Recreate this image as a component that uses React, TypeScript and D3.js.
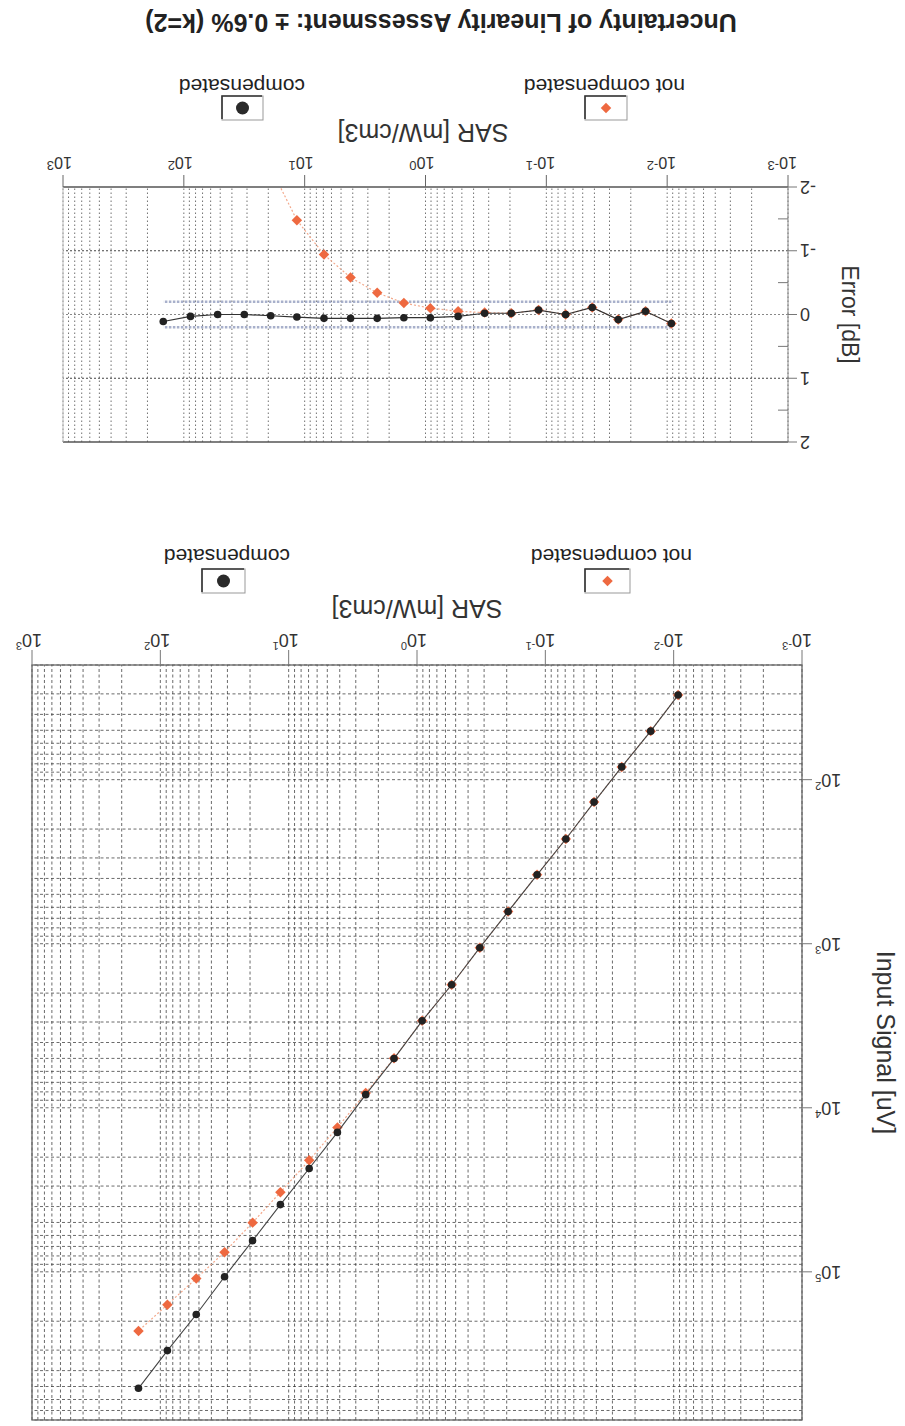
import React, { useEffect, useRef } from "react";
import * as d3 from "d3";

const W = 905;
const H = 1426;
const FONT = "'Liberation Sans', Arial, sans-serif";

// SAR [mW/cm3] of the calibration steps
const sarValues = [
  0.00923, 0.0151, 0.0254, 0.0417, 0.0692, 0.116, 0.195, 0.324, 0.537, 0.912,
  1.51, 2.51, 4.17, 6.92, 11.6, 19.1, 31.6, 52.5, 88.1, 148,
];

// input signal [uV]
const inputCompensated = [
  30.5, 50.6, 83.6, 137, 230, 380, 637, 1057, 1778, 2951, 5012, 8318, 14125,
  23442, 38905, 64565, 107152, 181970, 301995, 512861,
];
const inputNotCompensated = [
  30.5, 50.6, 83.6, 137, 230, 380, 637, 1057, 1778, 2951, 4990, 8128, 13183,
  20893, 32734, 50119, 75858, 109648, 158489, 229087,
];

// linearity error [dB]
const errorCompensated = [
  0.14, -0.05, 0.08, -0.11, 0.0, -0.07, -0.02, -0.02, 0.03, 0.05, 0.05, 0.06,
  0.06, 0.06, 0.04, 0.02, 0.0, 0.0, 0.03, 0.11,
];
const errorNotCompensated = [
  0.14, -0.05, 0.08, -0.11, 0.0, -0.07, -0.02, -0.03, -0.05, -0.1, -0.18, -0.34,
  -0.58, -0.94, -1.48, -2.3, -3.0, -4.4, -5.6, -7.0,
];

const uncertaintyLimits = [-0.2, 0.2];
const sarDecades = [1e-3, 1e-2, 1e-1, 1, 10, 100, 1000];
const inputDecades = [100, 1000, 10000, 100000];
const errorTicks = [-2, -1, 0, 1, 2];
const errorMinorTicks = [-1.5, -0.5, 0.5, 1.5];
const errorGrid = [-1, 0, 1];

const ORANGE = "#ee6940";
const ORANGE_LINE = "#f3a98c";
const DOT = "#222";

export default function App() {
  const svgRef = useRef<SVGSVGElement>(null);

  useEffect(() => {
    const svg = d3.select(svgRef.current);
    svg.selectAll("*").remove();

    // the scanned sheet is upside down: draw normally, then turn by 180 deg
    const root = svg
      .append("g")
      .attr("transform", `rotate(180 ${W / 2} ${H / 2})`)
      .style("font-family", FONT);

    const diamond = d3.symbol().type(d3.symbolDiamond2).size(70);

    const legend = (g, y, textY, items) => {
      items.forEach((it) => {
        const bw = it.w;
        const bh = 24;
        g.append("rect")
          .attr("x", it.bx)
          .attr("y", y)
          .attr("width", bw)
          .attr("height", bh)
          .attr("fill", "#fff")
          .attr("stroke", "#999")
          .attr("stroke-width", 1);
        g.append("path")
          .attr("d", `M${it.bx + 1},${y + bh} H${it.bx + bw} V${y + 1}`)
          .attr("fill", "none")
          .attr("stroke", "#333")
          .attr("stroke-width", 1.6);
        if (it.kind === "circle") {
          g.append("circle")
            .attr("cx", it.bx + bw / 2)
            .attr("cy", y + bh / 2)
            .attr("r", 6.5)
            .attr("fill", "#2a2a2a");
        } else {
          g.append("path")
            .attr("d", diamond())
            .attr("transform", `translate(${it.bx + bw / 2},${y + bh / 2})`)
            .attr("fill", ORANGE);
        }
        g.append("text")
          .attr("x", it.tx)
          .attr("y", textY)
          .attr("font-size", 21)
          .attr("fill", "#222")
          .text(it.label);
      });
    };

    const decadeLabel = (g, x, y, v, size, supSize, rise) => {
      const t = g
        .append("text")
        .attr("x", x - size * 0.556)
        .attr("y", y)
        .attr("font-size", size)
        .attr("fill", "#333");
      t.append("tspan").text("10");
      t.append("tspan")
        .attr("font-size", supSize)
        .attr("dy", -rise)
        .text(String(Math.round(Math.log10(v))));
    };

    // ---------------- SAR vs input signal ----------------
    const a = { left: 103, right: 873, top: 6, bottom: 761 };
    const xA = d3.scaleLog().domain([1e-3, 1e3]).range([a.left, a.right]);
    const yA = d3.scaleLog().domain([20, 8e5]).range([a.bottom, a.top]);
    const gA = root.append("g");

    gA.append("g")
      .selectAll("line")
      .data(xA.ticks())
      .join("line")
      .attr("x1", (d) => xA(d))
      .attr("x2", (d) => xA(d))
      .attr("y1", a.top)
      .attr("y2", a.bottom)
      .attr("stroke", "#333")
      .attr("stroke-width", 1)
      .attr("stroke-dasharray", "3,2.5")
      .attr("opacity", 0.72);

    gA.append("g")
      .selectAll("line")
      .data(yA.ticks())
      .join("line")
      .attr("x1", a.left)
      .attr("x2", a.right)
      .attr("y1", (d) => yA(d))
      .attr("y2", (d) => yA(d))
      .attr("stroke", "#333")
      .attr("stroke-width", 1)
      .attr("stroke-dasharray", "3,2.5")
      .attr("opacity", 0.72);

    gA.append("rect")
      .attr("x", a.left)
      .attr("y", a.top)
      .attr("width", a.right - a.left)
      .attr("height", a.bottom - a.top)
      .attr("fill", "none")
      .attr("stroke", "#666")
      .attr("stroke-width", 1.3);

    gA.append("g")
      .selectAll("line")
      .data(sarDecades)
      .join("line")
      .attr("x1", (d) => xA(d))
      .attr("x2", (d) => xA(d))
      .attr("y1", a.bottom)
      .attr("y2", a.bottom + 15)
      .attr("stroke", "#777");
    sarDecades.forEach((d) => decadeLabel(gA, xA(d), 792, d, 18, 11, 8));

    gA.append("g")
      .selectAll("line")
      .data(inputDecades)
      .join("line")
      .attr("x1", a.left - 10)
      .attr("x2", a.left)
      .attr("y1", (d) => yA(d))
      .attr("y2", (d) => yA(d))
      .attr("stroke", "#777");
    inputDecades.forEach((d) => {
      const t = gA
        .append("text")
        .attr("x", 90)
        .attr("y", yA(d) + 6)
        .attr("text-anchor", "end")
        .attr("font-size", 18)
        .attr("fill", "#333");
      t.append("tspan").text("10");
      t.append("tspan")
        .attr("font-size", 11)
        .attr("dy", -8)
        .text(String(Math.round(Math.log10(d))));
    });

    gA.append("text")
      .attr("transform", `translate(28,${(a.top + a.bottom) / 2}) rotate(-90)`)
      .attr("text-anchor", "middle")
      .attr("font-size", 25)
      .attr("fill", "#333")
      .text("Input Signal [uV]");

    gA.append("text")
      .attr("x", 488)
      .attr("y", 826)
      .attr("text-anchor", "middle")
      .attr("font-size", 25)
      .attr("fill", "#333")
      .text("SAR [mW/cm3]");

    const lineA = (ys) =>
      d3
        .line<number>()
        .x((d) => xA(d))
        .y((d, i) => yA(ys[i]));

    gA.append("path")
      .attr("d", lineA(inputNotCompensated)(sarValues))
      .attr("fill", "none")
      .attr("stroke", ORANGE_LINE)
      .attr("stroke-width", 1.2)
      .attr("stroke-dasharray", "2,2");
    gA.append("g")
      .selectAll("path")
      .data(sarValues)
      .join("path")
      .attr("d", diamond())
      .attr(
        "transform",
        (d, i) => `translate(${xA(d)},${yA(inputNotCompensated[i])})`
      )
      .attr("fill", ORANGE);

    gA.append("path")
      .attr("d", lineA(inputCompensated)(sarValues))
      .attr("fill", "none")
      .attr("stroke", "#444")
      .attr("stroke-width", 1.1);
    gA.append("g")
      .selectAll("circle")
      .data(sarValues)
      .join("circle")
      .attr("cx", (d) => xA(d))
      .attr("cy", (d, i) => yA(inputCompensated[i]))
      .attr("r", 3.8)
      .attr("fill", DOT);

    legend(gA, 833, 877, [
      { kind: "diamond", bx: 275, w: 45, tx: 213, label: "not compensated" },
      { kind: "circle", bx: 660, w: 43, tx: 615, label: "compensated" },
    ]);

    // ---------------- linearity error ----------------
    const b = { left: 117, right: 842, top: 984, bottom: 1239 };
    const xB = d3.scaleLog().domain([1e-3, 1e3]).range([b.left, b.right]);
    const yB = d3.scaleLinear().domain([-2, 2]).range([b.bottom, b.top]);
    const gB = root.append("g");

    svg
      .append("defs")
      .append("clipPath")
      .attr("id", "clipB")
      .append("rect")
      .attr("x", b.left)
      .attr("y", b.top)
      .attr("width", b.right - b.left)
      .attr("height", b.bottom - b.top);

    gB.append("g")
      .selectAll("line")
      .data(xB.ticks())
      .join("line")
      .attr("x1", (d) => xB(d))
      .attr("x2", (d) => xB(d))
      .attr("y1", b.top)
      .attr("y2", b.bottom)
      .attr("stroke", "#444")
      .attr("stroke-width", 1)
      .attr("stroke-dasharray", "1.5,2.5")
      .attr("opacity", 0.75);

    gB.append("g")
      .selectAll("line")
      .data(errorGrid)
      .join("line")
      .attr("x1", b.left)
      .attr("x2", b.right)
      .attr("y1", (d) => yB(d))
      .attr("y2", (d) => yB(d))
      .attr("stroke", (d) => (d === 0 ? "#888" : "#444"))
      .attr("stroke-width", 1)
      .attr("stroke-dasharray", "2,2");

    gB.append("line")
      .attr("x1", b.left)
      .attr("x2", b.right)
      .attr("y1", b.top)
      .attr("y2", b.top)
      .attr("stroke", "#555")
      .attr("stroke-width", 1.6);
    gB.append("line")
      .attr("x1", b.left)
      .attr("x2", b.right)
      .attr("y1", b.bottom)
      .attr("y2", b.bottom)
      .attr("stroke", "#555")
      .attr("stroke-width", 1.6);
    gB.append("line")
      .attr("x1", b.left)
      .attr("x2", b.left)
      .attr("y1", b.top)
      .attr("y2", b.bottom)
      .attr("stroke", "#888");
    gB.append("line")
      .attr("x1", b.right)
      .attr("x2", b.right)
      .attr("y1", b.top)
      .attr("y2", b.bottom)
      .attr("stroke", "#bbb");

    gB.append("g")
      .selectAll("line")
      .data(sarDecades)
      .join("line")
      .attr("x1", (d) => xB(d))
      .attr("x2", (d) => xB(d))
      .attr("y1", b.bottom)
      .attr("y2", b.bottom + 12)
      .attr("stroke", "#666");
    sarDecades.forEach((d) => decadeLabel(gB, xB(d), 1269, d, 16, 13, 4));

    gB.append("g")
      .selectAll("line")
      .data(errorTicks)
      .join("line")
      .attr("x1", b.left - 9)
      .attr("x2", b.left)
      .attr("y1", (d) => yB(d))
      .attr("y2", (d) => yB(d))
      .attr("stroke", "#777");
    gB.append("g")
      .selectAll("line")
      .data(errorMinorTicks)
      .join("line")
      .attr("x1", b.left)
      .attr("x2", b.left + 10)
      .attr("y1", (d) => yB(d))
      .attr("y2", (d) => yB(d))
      .attr("stroke", "#777");
    gB.append("g")
      .selectAll("text")
      .data(errorTicks)
      .join("text")
      .attr("x", 105)
      .attr("y", (d) => yB(d) + 6.5)
      .attr("text-anchor", "end")
      .attr("font-size", 18)
      .attr("fill", "#333")
      .text((d) => String(d));

    gB.append("text")
      .attr("transform", `translate(63,${(b.top + b.bottom) / 2}) rotate(-90)`)
      .attr("text-anchor", "middle")
      .attr("font-size", 23)
      .attr("fill", "#333")
      .text("Error [dB]");

    gB.append("text")
      .attr("x", 482)
      .attr("y", 1302)
      .attr("text-anchor", "middle")
      .attr("font-size", 25)
      .attr("fill", "#333")
      .text("SAR [mW/cm3]");

    const sarExtent = d3.extent(sarValues);
    gB.append("g")
      .selectAll("line")
      .data(uncertaintyLimits)
      .join("line")
      .attr("x1", xB(sarExtent[0]))
      .attr("x2", xB(sarExtent[1]))
      .attr("y1", (d) => yB(d))
      .attr("y2", (d) => yB(d))
      .attr("stroke", "#9aa3c2")
      .attr("stroke-width", 2.4)
      .attr("stroke-dasharray", "2.5,1.5")
      .attr("opacity", 0.85);

    const plotB = gB.append("g").attr("clip-path", "url(#clipB)");
    const lineB = (ys) =>
      d3
        .line<number>()
        .x((d) => xB(d))
        .y((d, i) => yB(ys[i]));

    plotB
      .append("path")
      .attr("d", lineB(errorNotCompensated)(sarValues))
      .attr("fill", "none")
      .attr("stroke", ORANGE_LINE)
      .attr("stroke-width", 1.2)
      .attr("stroke-dasharray", "2,2");
    plotB
      .append("g")
      .selectAll("path")
      .data(sarValues)
      .join("path")
      .attr("d", diamond())
      .attr(
        "transform",
        (d, i) => `translate(${xB(d)},${yB(errorNotCompensated[i])})`
      )
      .attr("fill", ORANGE);

    plotB
      .append("path")
      .attr("d", lineB(errorCompensated)(sarValues))
      .attr("fill", "none")
      .attr("stroke", "#333")
      .attr("stroke-width", 1.2);
    plotB
      .append("g")
      .selectAll("circle")
      .data(sarValues)
      .join("circle")
      .attr("cx", (d) => xB(d))
      .attr("cy", (d, i) => yB(errorCompensated[i]))
      .attr("r", 3.8)
      .attr("fill", DOT);

    legend(gB, 1306, 1347, [
      { kind: "diamond", bx: 278, w: 42, tx: 220, label: "not compensated" },
      { kind: "circle", bx: 642, w: 41, tx: 600, label: "compensated" },
    ]);

    // title
    root
      .append("text")
      .attr("x", 464)
      .attr("y", 1412)
      .attr("text-anchor", "middle")
      .attr("font-size", 25)
      .attr("font-weight", "bold")
      .attr("fill", "#222")
      .text("Uncertainty of Linearity Assessment: \u00b1 0.6% (k=2)");
  }, []);

  return (
    <svg
      ref={svgRef}
      width={W}
      height={H}
      style={{ position: "absolute", left: 0, top: 0, background: "#fff" }}
    />
  );
}
